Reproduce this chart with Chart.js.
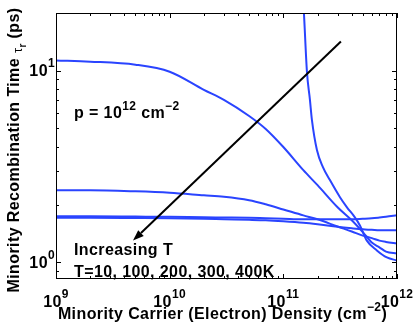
<!DOCTYPE html>
<html lang="en">
<head>
<meta charset="UTF-8" />
<title>Minority Recombination Time</title>
<script src="https://cdn.jsdelivr.net/npm/chart.js"></script>
<style>
  html, body { margin: 0; padding: 0; background: #fff; }
  #chart { display: block; }
</style>
</head>
<body>
<canvas id="chart" width="415" height="326"></canvas>
<script>
// electron density (cm^-2) shared by the 100-400K curves
const density = [1e9, 2e9, 5e9, 1e10, 2e10, 3e10, 5e10, 7e10, 1e11, 1.5e11, 2e11, 3e11, 4e11, 5e11, 6e11, 7e11, 8e11, 1e12];
const tau100K = [11.3, 11.15, 10.75, 9.88, 7.95, 7.05, 5.81, 4.97, 4.00, 3.03, 2.53, 1.94, 1.66, 1.44, 1.27, 1.20, 1.14, 1.115];
const tau200K = [2.38, 2.38, 2.35, 2.31, 2.24, 2.20, 2.11, 2.01, 1.89, 1.76, 1.68, 1.54, 1.45, 1.38, 1.34, 1.30, 1.28, 1.257];
const tau300K = [1.741, 1.741, 1.735, 1.730, 1.720, 1.716, 1.710, 1.700, 1.690, 1.680, 1.680, 1.680, 1.680, 1.690, 1.700, 1.715, 1.730, 1.762];
const tau400K = [1.71, 1.71, 1.705, 1.70, 1.69, 1.68, 1.669, 1.659, 1.639, 1.61, 1.581, 1.534, 1.507, 1.489, 1.48, 1.471, 1.471, 1.471];
// the 10K curve only comes into view near 1.5e11
const density10K = [1.458e11, 1.517e11, 1.613e11, 1.714e11, 1.784e11, 1.975e11, 2.23e11, 2.57e11, 3.15e11, 3.63e11, 4.26e11, 4.72e11, 5.43e11, 6.65e11, 8.15e11, 1e12];
const tau10K = [29.9, 20.1, 9.88, 7.05, 5.54, 3.86, 3.14, 2.69, 2.19, 1.94, 1.72, 1.56, 1.30, 1.156, 1.062, 1.024];

const xTickExp = [9, 10, 11, 12];
const yTickExp = [0, 1];
const arrowFrom = [3.21e11, 14.2];
const arrowTo = [4.76e9, 1.30];

const BLUE = '#2a44ff';
const FONT = '"Liberation Sans", Arial, Helvetica, sans-serif';
const font = (size, weight) => `${weight || 'bold'} ${size}px ${FONT}`;

// runs of text drawn side by side: [text, size, dy, weight]
function runsWidth(ctx, runs) {
    let w = 0;
    runs.forEach(r => { ctx.font = font(r[1], r[3]); w += ctx.measureText(r[0]).width; });
    return w;
}
function drawRuns(ctx, runs, x, y, align) {
    const w = runsWidth(ctx, runs);
    if (align === 'center') x -= w / 2;
    else if (align === 'right') x -= w;
    runs.forEach(r => {
        ctx.font = font(r[1], r[3]);
        ctx.fillText(r[0], x, y + (r[2] || 0));
        x += ctx.measureText(r[0]).width;
    });
}
const pow10 = e => [['10', 16, 0], [String(e), 12, -9]];

const toPoints = (xs, ys) => xs.map((v, i) => ({ x: v, y: ys[i] }));

const framePlugin = {
    id: 'frame',
    afterDraw(chart) {
        const { ctx, chartArea: a, scales: { x, y } } = chart;
        ctx.save();
        ctx.strokeStyle = '#000';
        ctx.fillStyle = '#000';
        ctx.letterSpacing = '0.4px';

        // box
        ctx.lineWidth = 1;
        ctx.strokeRect(a.left + 0.5, a.top + 0.5, a.right - a.left - 1, a.bottom - a.top - 1);

        // log ticks pointing inward on all four sides
        ctx.beginPath();
        for (let e = 9; e <= 12; e++) {
            for (let k = 1; k <= 9; k++) {
                const v = k * Math.pow(10, e);
                if (v > 1e12) break;
                const px = Math.round(x.getPixelForValue(v)) + 0.5;
                const len = k === 1 ? 5 : 3;
                ctx.moveTo(px, a.bottom); ctx.lineTo(px, a.bottom - len);
                ctx.moveTo(px, a.top); ctx.lineTo(px, a.top + len);
            }
        }
        for (let e = -1; e <= 1; e++) {
            for (let k = 1; k <= 9; k++) {
                const v = k * Math.pow(10, e);
                if (v < y.min || v > y.max) continue;
                const py = Math.round(y.getPixelForValue(v)) + 0.5;
                const len = k === 1 ? 5 : 3;
                ctx.moveTo(a.left, py); ctx.lineTo(a.left + len, py);
                ctx.moveTo(a.right, py); ctx.lineTo(a.right - len, py);
            }
        }
        ctx.stroke();

        // tick labels
        ctx.textBaseline = 'alphabetic';
        xTickExp.forEach(e => {
            drawRuns(ctx, pow10(e), x.getPixelForValue(Math.pow(10, e)), 306.5, 'center');
        });
        yTickExp.forEach(e => {
            drawRuns(ctx, pow10(e), a.left - 1, y.getPixelForValue(Math.pow(10, e)) + 5.5, 'right');
        });

        // axis titles
        drawRuns(ctx, [['Minority Carrier (Electron) Density (cm', 16, 0], ['\u22122', 12, -8], [')', 16, 0]],
            (a.left + a.right) / 2 - 4, 319, 'center');
        ctx.save();
        ctx.translate(18.5, 150);
        ctx.rotate(-Math.PI / 2);
        drawRuns(ctx, [['Minority Recombination Time ', 16, 0], ['\u03c4', 13, 3, 'normal'], ['r', 10, 7], [' (ps)', 16, 0]], 0, 0, 'center');
        ctx.restore();

        // annotations
        drawRuns(ctx, [['p = 10', 16, 0], ['12', 12, -8], [' cm', 16, 0], ['\u22122', 12, -8]], 74, 118, 'left');
        drawRuns(ctx, [['Increasing T', 16, 0]], 74, 255, 'left');
        drawRuns(ctx, [['T=10, 100, 200, 300, 400K', 16, 0]], 74, 276.5, 'left');

        // arrow
        const x0 = x.getPixelForValue(arrowFrom[0]), y0 = y.getPixelForValue(arrowFrom[1]);
        const x1 = x.getPixelForValue(arrowTo[0]), y1 = y.getPixelForValue(arrowTo[1]);
        const ang = Math.atan2(y1 - y0, x1 - x0);
        const hl = 11, hw = 4;
        const bx = x1 - hl * Math.cos(ang), by = y1 - hl * Math.sin(ang);
        ctx.lineWidth = 2;
        ctx.beginPath();
        ctx.moveTo(x0, y0);
        ctx.lineTo(bx, by);
        ctx.stroke();
        ctx.beginPath();
        ctx.moveTo(x1, y1);
        ctx.lineTo(bx + hw * Math.sin(ang), by - hw * Math.cos(ang));
        ctx.lineTo(bx - hw * Math.sin(ang), by + hw * Math.cos(ang));
        ctx.closePath();
        ctx.fill();

        ctx.restore();
    }
};

const series = [
    { label: 'T=10K', pts: toPoints(density10K, tau10K) },
    { label: 'T=100K', pts: toPoints(density, tau100K) },
    { label: 'T=200K', pts: toPoints(density, tau200K) },
    { label: 'T=300K', pts: toPoints(density, tau300K) },
    { label: 'T=400K', pts: toPoints(density, tau400K) }
];

new Chart(document.getElementById('chart'), {
    type: 'line',
    data: {
        datasets: series.map(s => ({
            label: s.label,
            data: s.pts,
            borderColor: BLUE,
            backgroundColor: BLUE,
            borderWidth: 2,
            pointRadius: 0,
            fill: false,
            cubicInterpolationMode: 'monotone'
        }))
    },
    options: {
        responsive: false,
        animation: false,
        devicePixelRatio: 1,
        layout: { padding: { top: 13, right: 18, left: 0, bottom: 0 } },
        plugins: { legend: { display: false }, tooltip: { enabled: false } },
        scales: {
            x: {
                type: 'logarithmic', min: 1e9, max: 1e12,
                ticks: { display: false }, grid: { display: false }, border: { display: false },
                afterFit: s => { s.height = 47; }
            },
            y: {
                type: 'logarithmic', min: 0.82, max: 20,
                ticks: { display: false }, grid: { display: false }, border: { display: false },
                afterFit: s => { s.width = 56; }
            }
        }
    },
    plugins: [framePlugin]
});
</script>
</body>
</html>
